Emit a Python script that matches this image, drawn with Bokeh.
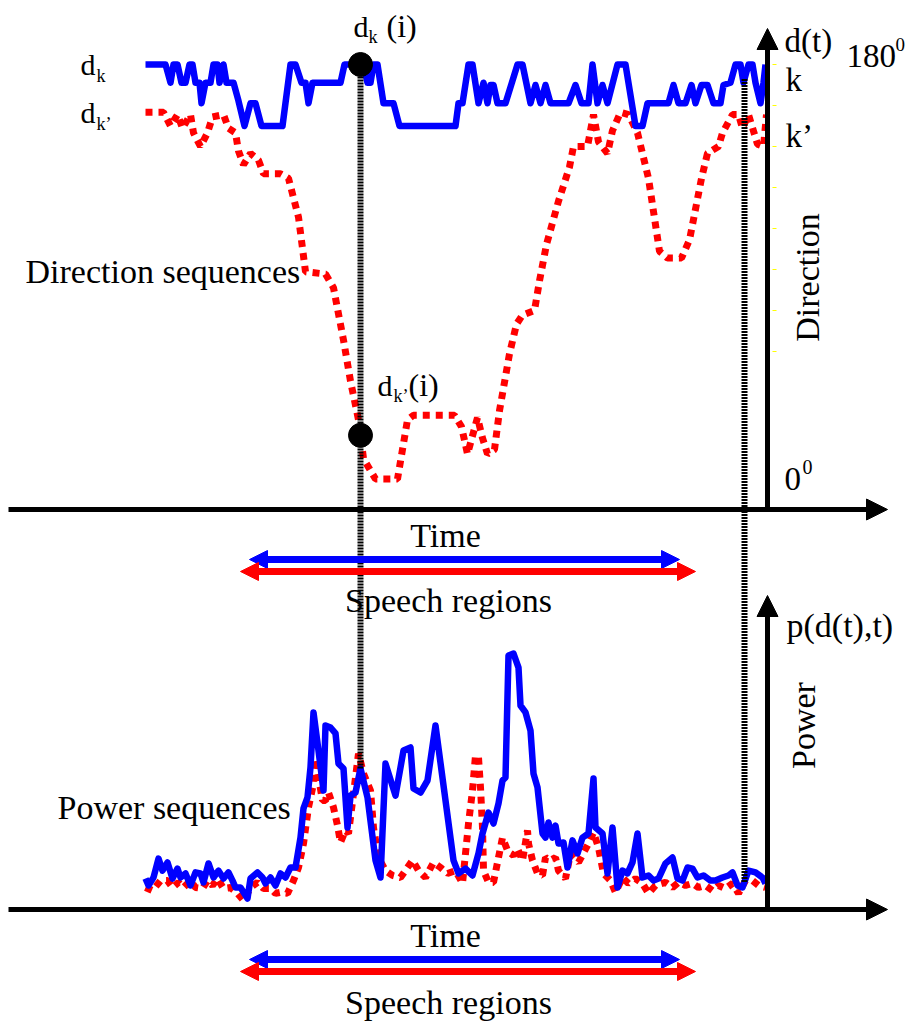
import numpy as np
from bokeh.plotting import figure
from bokeh.models import Range1d, Arrow, NormalHead
from bokeh.core.properties import value
from bokeh.embed import file_html
from bokeh.resources import INLINE

# ---------------- data ----------------
# direction sequence of source k (degrees) vs time index
dir_t_k = [0, 20, 25, 28, 32, 36, 40, 44, 47, 50, 54, 56, 60, 65, 68, 72, 74, 78, 81, 88,
           93, 99, 105, 110, 116, 137, 145, 150, 156, 160, 163, 167, 195, 199, 218, 222, 225, 228, 232, 238,
           248, 254, 310, 313, 317, 323, 327, 333, 338, 342, 345, 348, 352, 360, 372, 377, 385, 390, 395, 400,
           405, 423, 430, 436, 443, 447, 452, 457, 462, 472, 480, 490, 497, 502, 523, 528, 533, 540, 546, 550,
           556, 562, 568, 575, 578, 585, 590, 595, 598, 603, 607, 610, 615, 618, 620]
dir_k = [180, 180, 172, 180, 180, 172, 172, 180, 180, 172, 172, 163, 172, 172, 180, 180, 172, 180, 172, 172,
         164, 153, 163, 163, 153, 153, 180, 180, 172, 172, 163, 172, 172, 180, 180, 172, 172, 180, 180, 163,
         163, 153, 153, 163, 163, 180, 180, 163, 172, 163, 171, 171, 163, 163, 180, 180, 163, 171, 163, 171,
         163, 163, 171, 163, 163, 180, 163, 171, 163, 180, 180, 153, 153, 163, 163, 171, 163, 163, 171, 163,
         171, 171, 163, 163, 171, 172, 180, 180, 172, 180, 180, 172, 163, 172, 180]

# direction sequence of source k' (degrees)
dir_t_k2 = [0, 18, 25, 32, 37, 45, 48, 55, 62, 67, 78, 83, 90, 93, 98, 105, 113, 118, 135, 143,
            153, 160, 180, 188, 198, 205, 213, 218, 230, 252, 262, 268, 309, 316, 322, 332, 337, 342, 349, 354,
            364, 371, 377, 389, 394, 401, 413, 424, 428, 442, 448, 453, 462, 467, 475, 483, 492, 503, 514, 522,
            536, 544, 556, 562, 573, 577, 587, 593, 597, 603, 612, 618, 621]
dir_k2 = [159, 159, 153, 158, 152, 158, 150, 144, 150, 157, 158, 152, 150, 142, 136, 141, 138, 132, 132, 130,
          113, 89, 88, 82, 59, 41, 24, 7, -2, -2, 24, 26, 26, 21, 9, 25, 16, 9, 11, 28,
          53, 66, 70, 72, 85, 101, 120, 135, 144, 144, 158, 146, 141, 151, 159, 158, 150, 130, 98, 95,
          95, 103, 130, 141, 144, 150, 158, 158, 152, 158, 145, 144, 158]

# power sequence of source k (arbitrary units)
pow_t_k = [0, 3, 8, 13, 17, 22, 27, 32, 35, 40, 45, 50, 55, 58, 63, 68, 73, 78, 83, 87,
           90, 95, 102, 105, 112, 117, 120, 125, 130, 135, 140, 145, 150, 155, 158, 162, 165, 168, 173, 178,
           180, 185, 190, 193, 198, 202, 205, 210, 215, 222, 230, 235, 240, 250, 258, 265, 268, 275, 282, 290,
           308, 313, 320, 327, 333, 337, 343, 348, 353, 357, 360, 363, 368, 373, 375, 380, 385, 388, 392, 397,
           400, 403, 407, 410, 413, 418, 422, 427, 432, 437, 443, 448, 450, 457, 462, 467, 472, 477, 482, 487,
           492, 497, 503, 508, 513, 520, 527, 532, 537, 542, 547, 552, 558, 565, 570, 577, 583, 587, 592, 597,
           603, 610, 617, 620]
pow_k = [11.7, 9.0, 12.1, 19.5, 14.8, 18.0, 11.7, 15.6, 12.1, 13.7, 9.0, 14.1, 13.7, 10.2, 17.6, 12.1, 14.8, 11.7, 14.1, 10.9,
         8.2, 8.2, 3.9, 11.7, 14.1, 12.1, 9.8, 12.1, 9.0, 13.7, 12.1, 16.0, 16.0, 27.7, 39.1, 43.4, 55.1, 76.6, 61.7, 46.1,
         71.5, 70.7, 68.4, 56.6, 54.7, 31.6, 44.1, 45.3, 54.7, 43.4, 18.8, 12.1, 56.6, 44.1, 61.7, 62.9, 46.9, 45.3, 50.0, 71.5,
         18.8, 13.7, 15.6, 12.9, 21.5, 29.3, 37.5, 33.2, 41.0, 50.0, 51.2, 98.8, 99.6, 94.1, 79.3, 76.6, 69.5, 52.7, 47.3, 29.3,
         27.7, 33.6, 27.7, 32.4, 25.4, 25.8, 16.0, 26.6, 21.5, 27.7, 29.3, 50.8, 31.6, 29.3, 13.7, 31.6, 8.2, 14.8, 13.7, 18.0,
         29.3, 12.1, 12.9, 10.9, 11.7, 17.6, 19.9, 11.7, 10.9, 16.0, 15.6, 12.1, 12.9, 10.9, 10.9, 12.1, 12.9, 14.1, 9.0, 8.2,
         14.8, 14.1, 12.1, 9.8]

# power sequence of source k'
pow_t_k2 = [0, 7, 15, 22, 27, 33, 38, 45, 50, 57, 62, 67, 72, 78, 85, 92, 98, 105, 112, 118,
            125, 130, 135, 142, 148, 153, 158, 163, 168, 170, 173, 177, 180, 183, 188, 192, 195, 200, 203, 208,
            213, 218, 225, 228, 233, 240, 247, 255, 262, 267, 273, 280, 288, 295, 302, 310, 317, 320, 323, 327,
            330, 333, 335, 337, 338, 343, 348, 353, 357, 362, 368, 372, 377, 382, 383, 387, 392, 397, 400, 405,
            410, 413, 420, 425, 433, 443, 448, 453, 458, 465, 470, 477, 483, 490, 497, 503, 510, 520, 527, 533,
            540, 547, 553, 560, 567, 573, 580, 587, 593, 600, 607, 613, 620]
pow_k2 = [8.2, 7.0, 10.9, 10.9, 8.2, 10.2, 8.2, 10.9, 8.2, 7.8, 10.9, 9.0, 11.7, 7.8, 8.2, 5.9, 3.1, 8.2, 10.2, 7.8,
          7.8, 5.9, 6.3, 5.9, 10.9, 16.0, 25.4, 39.5, 48.8, 58.6, 51.2, 42.2, 42.2, 45.3, 39.5, 32.4, 25.8, 30.5, 29.3, 44.9,
          60.5, 52.7, 46.1, 31.6, 19.9, 14.8, 12.9, 12.1, 16.0, 18.8, 14.8, 12.1, 18.0, 16.0, 13.7, 14.8, 9.8, 21.5, 33.2, 46.1,
          59.8, 59.0, 47.3, 31.6, 14.8, 10.2, 10.2, 19.9, 27.7, 22.7, 20.7, 23.4, 18.8, 30.5, 25.4, 18.8, 13.7, 12.9, 19.9, 18.8,
          19.9, 14.8, 11.7, 21.5, 18.0, 25.4, 29.7, 23.8, 13.7, 10.9, 6.3, 12.1, 9.8, 11.7, 9.8, 5.9, 9.0, 10.2, 8.2, 10.2,
          9.0, 9.8, 8.2, 9.0, 7.0, 9.0, 7.8, 9.8, 5.9, 10.9, 10.9, 9.0, 8.2]

speech_k = [104, 534]    # speech region of k (time index)
speech_k2 = [95, 550]    # speech region of k'
mark_t = [215, 599]      # marked time instants
dir_ticks = [180, 162, 144, 126, 108, 90, 72, 54]

# ---------------- layout ----------------
W, H = 908, 1028
T0_PX = 145
DIR_Y0, DIR_PX = 474.0, 410.0 / 180.0
POW_Y0, POW_PX = 908.0, 2.56
BLUE, RED = "#0000ff", "#ff0000"
FONT = "Liberation Serif"


def dir_px(d):
    return DIR_Y0 - d * DIR_PX


def pow_px(v):
    return POW_Y0 - v * POW_PX


p = figure(width=W, height=H, x_range=Range1d(0, W), y_range=Range1d(H, 0),
           x_axis_type=None, y_axis_type=None, output_backend="svg",
           toolbar_location=None, min_border=0, outline_line_color=None)
p.extra_x_ranges = {"time": Range1d(-T0_PX, W - T0_PX)}
p.extra_y_ranges = {"dir": Range1d(start=(DIR_Y0 - H) / DIR_PX, end=DIR_Y0 / DIR_PX),
                    "pow": Range1d(start=(POW_Y0 - H) / POW_PX, end=POW_Y0 / POW_PX)}

# tiny yellow ticks on direction axis
p.segment(x0=[772] * len(dir_ticks), x1=[776] * len(dir_ticks), y0=dir_ticks, y1=dir_ticks,
          y_range_name="dir", line_color="#ffff00", line_width=1)

# sequences
p.line(dir_t_k2, dir_k2, x_range_name="time", y_range_name="dir",
       line_color=RED, line_width=7, line_dash="7 6")
p.line(dir_t_k, dir_k, x_range_name="time", y_range_name="dir",
       line_color=BLUE, line_width=6.5, line_join="round")
p.line(pow_t_k2, pow_k2, x_range_name="time", y_range_name="pow",
       line_color=RED, line_width=7, line_dash="7 6")
p.line(pow_t_k, pow_k, x_range_name="time", y_range_name="pow",
       line_color=BLUE, line_width=6.5, line_join="round")

# vertical dotted markers
top_y = [dir_px(np.interp(t, dir_t_k, dir_k)) for t in mark_t]
bot_y = [pow_px(np.interp(t, pow_t_k, pow_k)) for t in mark_t]
p.segment(x0=mark_t, x1=mark_t, y0=top_y, y1=bot_y, x_range_name="time",
          line_color="black", line_width=6, line_dash="2 1")

# dots d_k(i), d_k'(i)
i0 = mark_t[0]
p.scatter(x=[i0, i0], y=[np.interp(i0, dir_t_k, dir_k), np.interp(i0, dir_t_k2, dir_k2)],
          x_range_name="time", y_range_name="dir", size=24, color="black")


def head(c, s):
    return NormalHead(size=s, fill_color=c, line_color=c, line_width=1)


# axes
for xs, ys, xe, ye in [(8, 509, 887, 509), (767, 509, 767, 28), (8, 909, 887, 909), (767, 909, 767, 595)]:
    p.add_layout(Arrow(end=head("black", 21), x_start=xs, y_start=ys, x_end=xe, y_end=ye,
                       line_color="black", line_width=5))

# speech regions
for yb, yr in [(559, 571), (959, 971)]:
    p.add_layout(Arrow(start=head(BLUE, 18), end=head(BLUE, 18), x_start=speech_k[0], x_end=speech_k[1],
                       y_start=yb, y_end=yb, x_range_name="time", line_color=BLUE, line_width=7))
    p.add_layout(Arrow(start=head(RED, 18), end=head(RED, 18), x_start=speech_k2[0], x_end=speech_k2[1],
                       y_start=yr, y_end=yr, x_range_name="time", line_color=RED, line_width=7))

SHIFT = 0.34  # baseline correction, fraction of font size


def txt(x, y, s, size=34, align="left", rotated=False):
    if rotated:
        x = x - SHIFT * size
        ang = np.pi / 2
    else:
        y = y - SHIFT * size
        ang = 0.0
    p.text(x=[x], y=[y], text=[s], text_font=value(FONT), text_font_size=value(f"{size}px"),
           text_align=align, text_baseline="alphabetic", angle=ang, text_color="black")


# labels, top panel
txt(80, 74, "d", 30); txt(96, 82, "k", 18)
txt(80, 122, "d", 30); txt(96, 130, "k\u2019", 18)
txt(353, 36, "d", 30); txt(368, 43, "k", 18); txt(386, 36, "(i)", 32)
txt(377, 395, "d", 30); txt(393, 402, "k\u2019", 18); txt(408, 395, "(i)", 32)
txt(25, 283, "Direction sequences")
txt(784, 52, "d(t)", 33)
txt(846, 67, "180", 33); txt(895, 50, "0", 19)
txt(785, 91, "k", 33)
txt(785, 147, "k\u2019", 33)
txt(819, 277, "Direction", 34, "center", True)
txt(784, 490, "0", 33); txt(802, 473, "0", 20)
txt(445, 547, "Time", 34, "center")
txt(448, 612, "Speech regions", 34, "center")

# labels, bottom panel
txt(786, 637, "p(d(t),t)", 34)
txt(815, 725, "Power", 34, "center", True)
txt(57, 819, "Power sequences")
txt(445, 947, "Time", 34, "center")
txt(448, 1014, "Speech regions", 34, "center")

open("out.html", "w").write(file_html(p, INLINE))
